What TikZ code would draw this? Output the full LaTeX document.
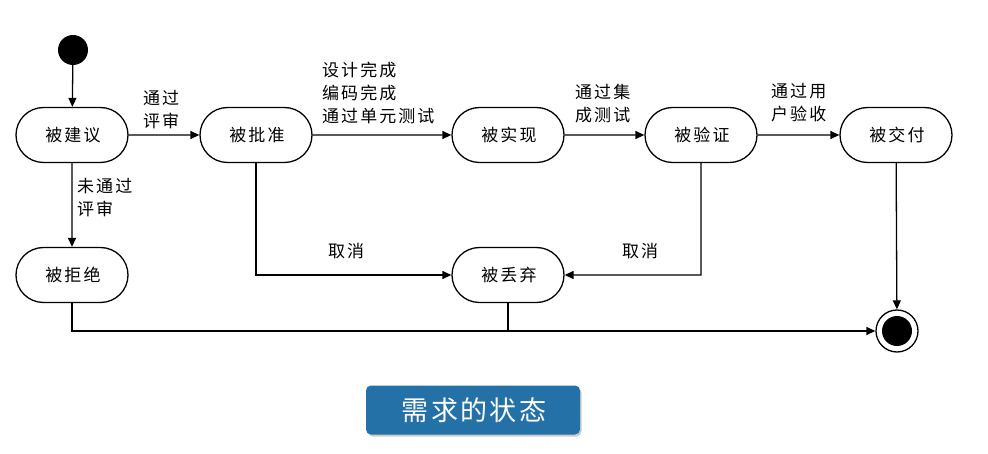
\documentclass[tikz,border=0pt]{standalone}
\usepackage{fontspec}
\setmainfont{Noto Sans CJK SC}
\newfontfamily\spaced[LetterSpace=12]{Noto Sans CJK SC}
\newfontfamily\capspaced[LetterSpace=9]{Noto Sans CJK SC}
\usetikzlibrary{arrows.meta,shapes.misc,shadows}
\definecolor{capblue}{HTML}{2471A8}
\begin{document}
\begin{tikzpicture}[x=1pt,y=-1pt,
  state/.style={draw,line width=1.3pt,rounded rectangle,minimum width=112pt,minimum height=55pt,inner sep=0pt,font=\spaced\fontsize{17}{18}\selectfont},
  conn/.style={line width=1.3pt,-{Triangle[length=9pt,width=8pt]}},
  plain/.style={line width=1.3pt},
  lab/.style={font=\spaced\fontsize{17}{23}\selectfont,align=left,inner sep=0pt,anchor=north west}]
\useasboundingbox (0,0) rectangle (988,454);
\fill[white] (0,0) rectangle (988,454);
\node[circle,fill=black,minimum size=30pt,inner sep=0pt] (init) at (73,50) {};
\node[state] (s1) at (72,135) {\hspace{2pt}被建议};
\node[state] (s2) at (256,135) {\hspace{2pt}被批准};
\node[state] (s3) at (508,135) {\hspace{2pt}被实现};
\node[state] (s4) at (701,135) {\hspace{2pt}被验证};
\node[state] (s5) at (896,135) {\hspace{2pt}被交付};
\node[state] (s6) at (72,275) {\hspace{2pt}被拒绝};
\node[state] (s7) at (508,275) {\hspace{2pt}被丢弃};
\node[circle,draw,line width=1.3pt,minimum size=42pt,inner sep=0pt] (fin) at (897,331) {};
\node[circle,fill=black,minimum size=30pt,inner sep=0pt] (finin) at (fin) {};
\coordinate (c1) at (256,275);
\coordinate (c2) at (701,275);
\coordinate (c3) at (72,331);
\coordinate (c4) at (508,331);
\draw[conn] (init) -- (s1);
\draw[conn] (s1) -- (s2);
\draw[conn] (s2) -- (s3);
\draw[conn] (s3) -- (s4);
\draw[conn] (s4) -- (s5);
\draw[conn] (s1) -- (s6);
\draw[conn] (s2.south) -- (c1) -- (s7);
\draw[conn] (s4.south) -- (c2) -- (s7);
\draw[conn] (s6.south) -- (c3) -- (fin);
\draw[plain] (s7.south) -- (c4);
\draw[conn] (s5) -- (fin);
\node[lab] (l1) at (143,90) {通过\\评审};
\node[lab] (l2) at (77,178) {未通过\\评审};
\node[lab] (l3) at (322,62) {设计完成\\编码完成\\通过单元测试};
\node[lab] (l4) at (575,84) {通过集\\成测试};
\node[lab] (l5) at (771,83) {通过用\\户验收};
\node[lab] (l6) at (328,243) {取消};
\node[lab] (l7) at (622,243) {取消};
\node[fill=capblue,rounded corners=5pt,minimum width=214pt,minimum height=49pt,text=white,font=\capspaced\fontsize{27}{28}\selectfont,drop shadow={opacity=0.4,shadow xshift=1.5pt,shadow yshift=-2pt}] (cap) at (473,410) {\hspace{2pt}需求的状态};
\end{tikzpicture}
\end{document}
